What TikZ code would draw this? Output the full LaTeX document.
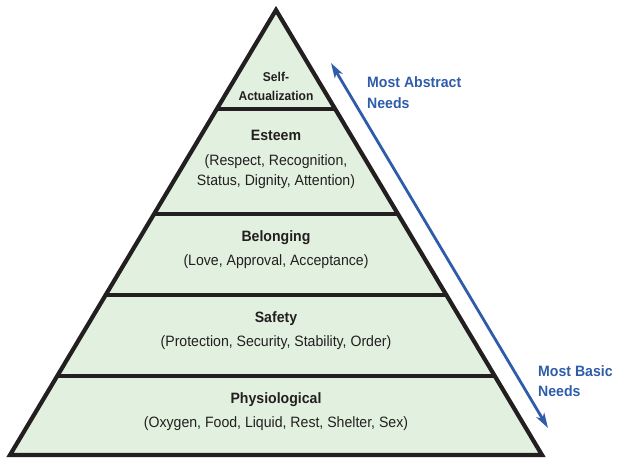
\documentclass[tikz,border=0pt]{standalone}
\usepackage{fontspec}
\setmainfont{Liberation Sans}[FakeStretch=0.94]
\usetikzlibrary{arrows.meta,calc}
\definecolor{ink}{HTML}{231F20}
\definecolor{levelfill}{HTML}{E2F0DF}
\definecolor{needblue}{HTML}{2E5CAA}
\tikzset{
  title/.style={anchor=base,inner sep=0pt,text=ink,font=\fontsize{15}{20}\selectfont\bfseries},
  smalltitle/.style={anchor=base,inner sep=0pt,text=ink,font=\fontsize{12.8}{17}\selectfont\bfseries},
  desc/.style={anchor=base,inner sep=0pt,text=ink,font=\fontsize{15}{20}\selectfont},
  bluelabel/.style={anchor=base west,inner sep=0pt,text=needblue,font=\fontsize{15}{20}\selectfont\bfseries},
  divider/.style={draw=ink,line width=3.2pt},
  outline/.style={draw=ink,line width=4.2pt,line join=miter},
  needarrow/.style={draw=needblue,line width=2.8pt,{Stealth[length=15pt,width=9pt,inset=4pt]}-{Stealth[length=15pt,width=9pt,inset=4pt]}}
}
\begin{document}
\begin{tikzpicture}[x=1pt,y=-1pt]
\useasboundingbox (0,0) rectangle (617,463);
\coordinate (apex) at (276,10);
\coordinate (bl) at (10,455);
\coordinate (br) at (542,455);
\fill[levelfill] (apex) -- (br) -- (bl) -- cycle;
\foreach \t/\n in {0.2225/a,0.4584/b,0.6404/c,0.8225/d}{
  \coordinate (l\n) at ($(apex)!\t!(bl)$);
  \coordinate (r\n) at ($(apex)!\t!(br)$);
  \draw[divider] (l\n) -- (r\n);
}
\draw[outline] (apex) -- (br) -- (bl) -- cycle;
% texts
\node[smalltitle] (self1) at (276,81.5) {Self-};
\node[smalltitle] (self2) at (276,100.5) {Actualization};
\node[title] (est) at (276,140.5) {Esteem};
\node[desc] (est1) at (276,165.5) {(Respect, Recognition,};
\node[desc] (est2) at (276,185.5) {Status, Dignity, Attention)};
\node[title] (bel) at (276,241.5) {Belonging};
\node[desc] (bel1) at (276,265.5) {(Love, Approval, Acceptance)};
\node[title] (saf) at (276,322) {Safety};
\node[desc] (saf1) at (276,346) {(Protection, Security, Stability, Order)};
\node[title] (phy) at (276,403.5) {Physiological};
\node[desc] (phy1) at (276,427.5) {(Oxygen, Food, Liquid, Rest, Shelter, Sex)};
% arrow
\coordinate (top) at (331,63);
\coordinate (bot) at (548,428);
\draw[needarrow] (top) -- (bot);
\node[bluelabel] (abs1) at (367,87.5) {Most Abstract};
\node[bluelabel] (abs2) at (367,108.5) {Needs};
\node[bluelabel] (bas1) at (538,376.5) {Most Basic};
\node[bluelabel] (bas2) at (538,396.5) {Needs};
\end{tikzpicture}
\end{document}
